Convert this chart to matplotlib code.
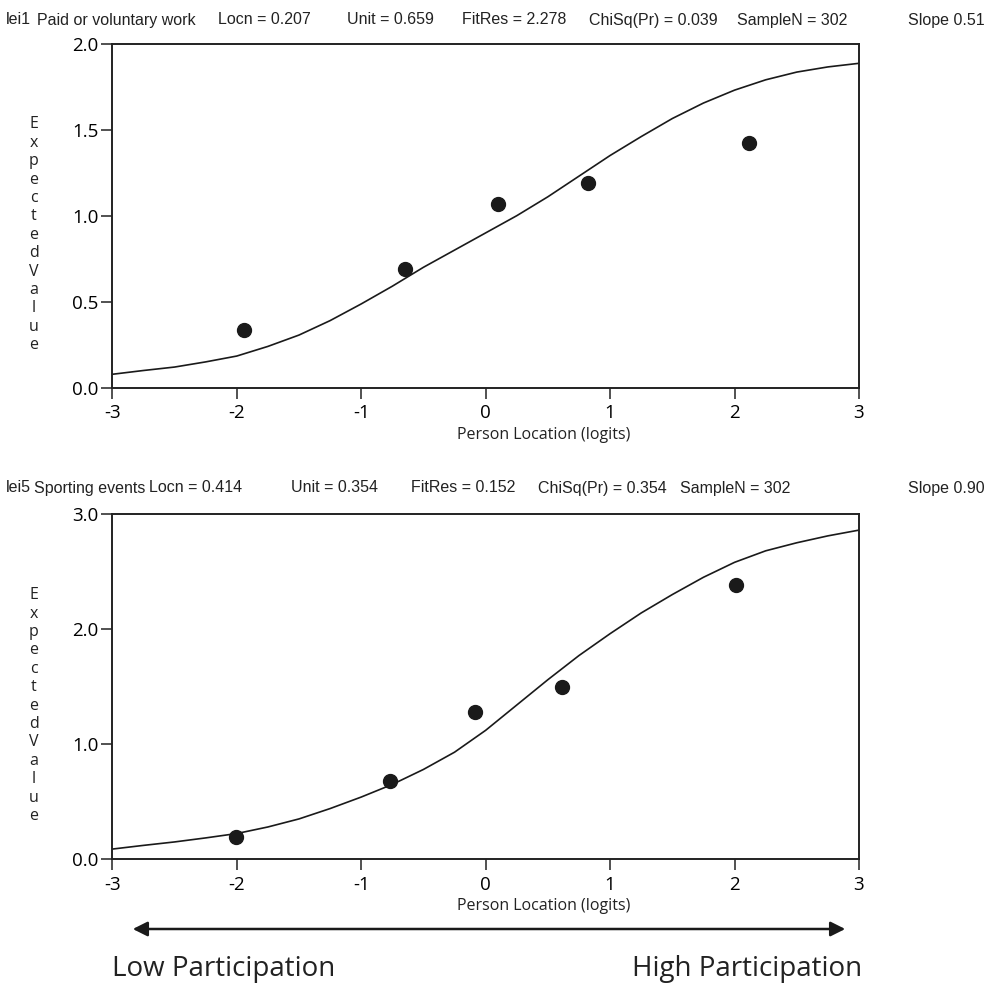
import matplotlib
matplotlib.use("Agg")
import matplotlib.pyplot as plt

# curve values at quarter-logit steps
curve_x = [-3, -2.75, -2.5, -2.25, -2, -1.75, -1.5, -1.25, -1, -0.75, -0.5, -0.25, 0,
           0.25, 0.5, 0.75, 1, 1.25, 1.5, 1.75, 2, 2.25, 2.5, 2.75, 3]
lei1_curve = [0.078, 0.10, 0.12, 0.15, 0.184, 0.24, 0.306, 0.39, 0.487, 0.59, 0.70, 0.80, 0.90,
              1.00, 1.11, 1.23, 1.35, 1.46, 1.565, 1.655, 1.73, 1.79, 1.835, 1.865, 1.886]
lei5_curve = [0.088, 0.12, 0.15, 0.185, 0.223, 0.28, 0.35, 0.44, 0.54, 0.65, 0.78, 0.93, 1.12,
              1.34, 1.56, 1.77, 1.96, 2.14, 2.30, 2.45, 2.58, 2.68, 2.75, 2.81, 2.86]

# observed class means
lei1_obs_x = [-1.94, -0.65, 0.10, 0.82, 2.12]
lei1_obs_y = [0.337, 0.692, 1.07, 1.19, 1.423]
lei5_obs_x = [-2.01, -0.77, -0.085, 0.61, 2.015]
lei5_obs_y = [0.19, 0.677, 1.283, 1.50, 2.386]

lei1_yticks = [0.0, 0.5, 1.0, 1.5, 2.0]
lei5_yticks = [0.0, 1.0, 2.0, 3.0]
xticks = [-3, -2, -1, 0, 1, 2, 3]

lei1_header = ["lei1", "Paid or voluntary work", "Locn = 0.207", "Unit = 0.659",
               "FitRes = 2.278", "ChiSq(Pr) = 0.039", "SampleN = 302", "Slope 0.51"]
lei5_header = ["lei5", "Sporting events", "Locn = 0.414", "Unit = 0.354",
               "FitRes = 0.152", "ChiSq(Pr) = 0.354", "SampleN = 302", "Slope 0.90"]
lei1_header_x = [6, 37, 218, 347, 462, 589, 737, 908]
lei5_header_x = [6, 34, 149, 291, 411, 538, 680, 908]

W, H = 987, 985
tick_font = ["Open Sans", "DejaVu Sans"]
head_font = ["Liberation Sans", "DejaVu Sans"]
ink = "#222222"


def fx(x):
    return x / W


def fy(y):
    return 1 - y / H


fig = plt.figure(figsize=(W / 100, H / 100), dpi=100)


def panel(top, bottom, ymax, yticks, cx, cy, ox, oy, header, header_x, header_y):
    ax = fig.add_axes([fx(112.3), fy(bottom), (859 - 112.3) / W, (bottom - top) / H])
    ax.plot(cx, cy, color="#1a1a1a", lw=1.2)
    ax.plot(ox, oy, "o", color="#1a1a1a", ms=10)
    ax.set_xlim(-3, 3)
    ax.set_ylim(0, ymax)
    ax.set_xticks(xticks)
    ax.set_xticklabels([str(t) for t in xticks], family=tick_font, fontsize=13.5)
    ax.set_yticks(yticks)
    ax.set_yticklabels(["%.1f" % t for t in yticks], family=tick_font, fontsize=13.5)
    ax.tick_params(axis="x", length=8, width=1.1, pad=4, color=ink)
    ax.tick_params(axis="y", length=8, width=1.1, pad=2, color=ink)
    for s in ax.spines.values():
        s.set_linewidth(1.4)
        s.set_color(ink)
    fig.text(fx(544), fy(bottom + 47), "Person Location (logits)", family=tick_font,
             fontsize=11.5, ha="center", va="center", color=ink)
    fig.text(fx(34), fy((top + bottom) / 2 + 19), "\n".join("ExpectedValue"),
             family=tick_font, fontsize=11.5, ha="center", va="center",
             linespacing=1.2, color=ink)
    for t, x in zip(header, header_x):
        fig.text(fx(x), fy(header_y), t, family=head_font, fontsize=11.5,
                 ha="left", va="center", color=ink)
    return ax


panel(43.7, 387.7, 2.0, lei1_yticks, curve_x, lei1_curve, lei1_obs_x, lei1_obs_y,
      lei1_header, lei1_header_x, 20)
panel(514, 859.2, 3.0, lei5_yticks, curve_x, lei5_curve, lei5_obs_x, lei5_obs_y,
      lei5_header, lei5_header_x, 488)

fig.add_artist(matplotlib.patches.FancyArrowPatch(
    (fx(130), fy(929)), (fx(848), fy(929)), transform=fig.transFigure,
    arrowstyle="<|-|>", mutation_scale=22, lw=1.8, color="#1a1a1a"))
fig.text(fx(112), fy(969), "Low Participation", family=tick_font, fontsize=20,
         ha="left", va="center", color=ink)
fig.text(fx(862), fy(969), "High Participation", family=tick_font, fontsize=20,
         ha="right", va="center", color=ink)

fig.savefig("out.png", dpi=100)
